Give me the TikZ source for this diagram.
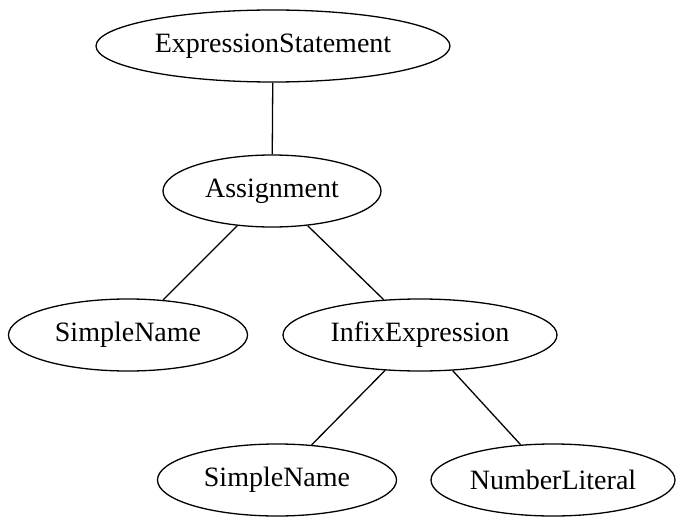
\documentclass[tikz,border=0pt]{standalone}
\usepackage{fontspec}
\setmainfont{Liberation Serif}
\usetikzlibrary{shapes.geometric}
\begin{document}
\begin{tikzpicture}[x=1pt, y=-1pt, line width=1.3pt,
    astnode/.style={ellipse, draw, inner sep=0pt, minimum height=72pt,
      font=\fontsize{28}{32}\selectfont}]
    \useasboundingbox (0,0) rectangle (683,519);
    \node (es) at (273,46) [astnode, minimum width=354pt] {ExpressionStatement};
    \node (as) at (272,191) [astnode, minimum width=218pt] {Assignment};
    \node (sn1) at (128,335) [astnode, minimum width=239pt] {SimpleName};
    \node (ie) at (420,335) [astnode, minimum width=274pt] {InfixExpression};
    \node (sn2) at (277,480) [astnode, minimum width=239pt] {SimpleName};
    \node (nl) at (553,480) [astnode, minimum width=244pt] {NumberLiteral};
    \draw (es) -- (as); \draw (as) -- (sn1); \draw (as) -- (ie);
    \draw (ie) -- (sn2); \draw (ie) -- (nl);
  \end{tikzpicture}
\end{document}
